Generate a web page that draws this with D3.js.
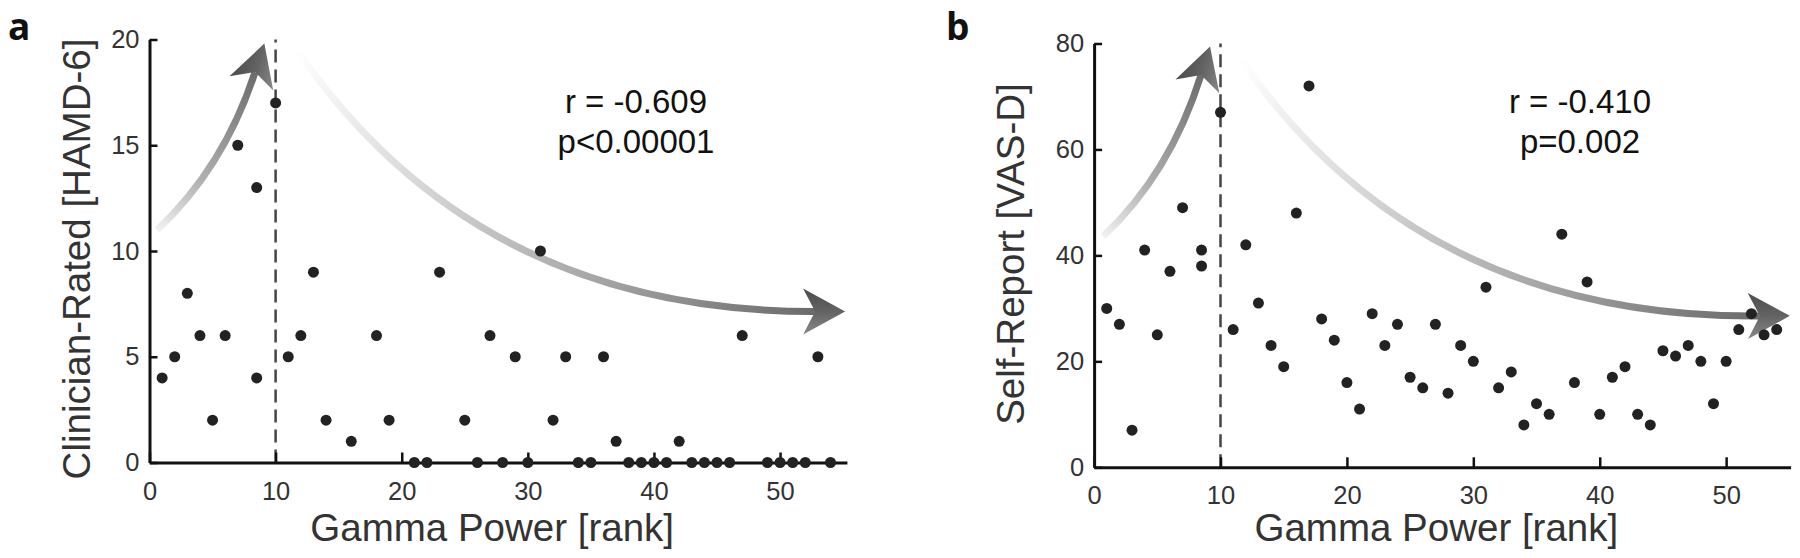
<!DOCTYPE html>
<html>
<head>
<meta charset="utf-8">
<script src="https://cdn.jsdelivr.net/npm/d3@7"></script>
<style>
    html, body { margin: 0; padding: 0; background: #fff; }
    svg { display: block; }
    .tick text { font-family: "Liberation Sans", Arial, sans-serif; font-size: 25.5px; fill: #333; }
</style>
</head>
<body>
<div id="chart"></div>
<script>
// Gamma power rank vs. depression scores, two panels.

// Panel a: clinician-rated HAMD-6 (tied ranks show up as 8.5)
const rankA = [1, 2, 3, 4, 5, 6, 7, 8.5, 8.5, 10, 11, 12, 13, 14, 16, 18, 19, 21, 22, 23,
    25, 26, 27, 28, 29, 30, 31, 32, 33, 34, 35, 36, 37, 38, 39, 40, 41, 42, 43, 44,
    45, 46, 47, 49, 50, 51, 52, 53, 54];
const hamd = [4, 5, 8, 6, 2, 6, 15, 13, 4, 17, 5, 6, 9, 2, 1, 6, 2, 0, 0, 9,
    2, 0, 6, 0, 5, 0, 10, 2, 5, 0, 0, 5, 1, 0, 0, 0, 0, 1, 0, 0,
    0, 0, 6, 0, 0, 0, 0, 5, 0];

// Panel b: self-report VAS-D
const rankB = [1, 2, 3, 4, 5, 6, 7, 8.5, 8.5, 10, 11, 12, 13, 14, 15, 16, 17, 18, 19, 20,
    21, 22, 23, 24, 25, 26, 27, 28, 29, 30, 31, 32, 33, 34, 35, 36, 37, 38, 39, 40,
    41, 42, 43, 44, 45, 46, 47, 48, 49, 50, 51, 52, 53, 54];
const vasd = [30, 27, 7, 41, 25, 37, 49, 41, 38, 67, 26, 42, 31, 23, 19, 48, 72, 28, 24, 16,
    11, 29, 23, 27, 17, 15, 27, 14, 23, 20, 34, 15, 18, 8, 12, 10, 44, 16, 35, 10,
    17, 19, 10, 8, 22, 21, 23, 20, 12, 20, 26, 29, 25, 26];

const xTicks = [0, 10, 20, 30, 40, 50];
const yTicksA = [0, 5, 10, 15, 20];
const yTicksB = [0, 20, 40, 60, 80];
const cutRank = 10;

const statsA = ['r = -0.609', 'p<0.00001'];
const statsB = ['r = -0.410', 'p=0.002'];

// Decorative arrows, control points in data units [rank, score]
const upArrowA = [[0.59, 10.99], [5.91, 13.95], [8.37, 18.46]];
const downArrowA = [[11.70, 19.5], [19.86, 12.41], [32.55, 7.12], [52.78, 7.14]];
const upArrowB = [[0.70, 43.56], [6.00, 55.37], [8.46, 74.05]];
const downArrowB = [[11.54, 77.21], [19.70, 48.95], [32.35, 28.17], [52.67, 28.56]];

const W = 1800, H = 558;
const font = '"Liberation Sans", Arial, sans-serif';

const svg = d3.select('#chart').append('svg')
    .attr('width', W)
    .attr('height', H)
    .attr('viewBox', `0 0 ${W} ${H}`);

const defs = svg.append('defs');

function addGradient(id, p0, p1, stops) {
    const grad = defs.append('linearGradient')
        .attr('id', id)
        .attr('gradientUnits', 'userSpaceOnUse')
        .attr('x1', p0[0]).attr('y1', p0[1])
        .attr('x2', p1[0]).attr('y2', p1[1]);
    stops.forEach(s => grad.append('stop').attr('offset', s[0]).attr('stop-color', s[1]));
}

// arrow head: tip ahead of shaft end, notch at shaft end
function arrowHead(end, dir) {
    const len = Math.hypot(dir[0], dir[1]);
    const u = [dir[0] / len, dir[1] / len];
    const n = [-u[1], u[0]];
    const tip = [end[0] + 30 * u[0], end[1] + 30 * u[1]];
    const back = [end[0] - 12 * u[0], end[1] - 12 * u[1]];
    const c1 = [back[0] + 23 * n[0], back[1] + 23 * n[1]];
    const c2 = [back[0] - 23 * n[0], back[1] - 23 * n[1]];
    return [tip, c1, end, c2];
}

function drawArrow(g, x, y, pts, id, stops) {
    const p = pts.map(d => [x(d[0]), y(d[1])]);
    const path = d3.path();
    path.moveTo(p[0][0], p[0][1]);
    if (p.length === 3) path.quadraticCurveTo(p[1][0], p[1][1], p[2][0], p[2][1]);
    else path.bezierCurveTo(p[1][0], p[1][1], p[2][0], p[2][1], p[3][0], p[3][1]);

    const end = p[p.length - 1], prev = p[p.length - 2];
    addGradient(id, p[0], end, stops);

    g.append('path')
        .attr('d', path.toString())
        .attr('fill', 'none')
        .attr('stroke', `url(#${id})`)
        .attr('stroke-width', 7);

    const head = arrowHead(end, [end[0] - prev[0], end[1] - prev[1]]);
    addGradient(id + '-head', head[1], head[3], [[0, '#888'], [0.5, '#636363'], [1, '#4c4c4c']]);
    g.append('polygon')
        .attr('points', head.map(d => d.join(',')).join(' '))
        .attr('fill', `url(#${id}-head)`);
}

function drawPanel(o) {
    const g = svg.append('g');
    const x = d3.scaleLinear().domain(o.xDomain).range(o.xRange);
    const y = d3.scaleLinear().domain(o.yDomain).range(o.yRange);

    // dashed cut line at rank 10
    g.append('line')
        .attr('x1', x(cutRank)).attr('x2', x(cutRank))
        .attr('y1', y(o.yDomain[0])).attr('y2', y(o.yDomain[1]))
        .attr('stroke', '#444')
        .attr('stroke-width', 2.5)
        .attr('stroke-dasharray', '13,7');

    drawArrow(g, x, y, o.upArrow, o.id + '-up',
        [[0, '#f2f2f2'], [0.35, '#b0b0b0'], [1, '#6c6c6c']]);
    drawArrow(g, x, y, o.downArrow, o.id + '-down',
        [[0, '#ffffff'], [0.3, '#d6d6d6'], [0.65, '#a4a4a4'], [1, '#6a6a6a']]);

    // axes (ticks point inward)
    const xAxis = g.append('g')
        .attr('transform', `translate(0,${y(0)})`)
        .call(d3.axisBottom(x).tickValues(xTicks).tickSizeInner(-10).tickSizeOuter(0).tickPadding(19));
    const yAxis = g.append('g')
        .attr('transform', `translate(${x(0)},0)`)
        .call(d3.axisLeft(y).tickValues(o.yTicks).tickSizeInner(-8).tickSizeOuter(0).tickPadding(10));
    [xAxis, yAxis].forEach(a => {
        a.select('.domain').attr('stroke', '#111').attr('stroke-width', 3);
        a.selectAll('.tick line').attr('stroke', '#111').attr('stroke-width', 2.5);
    });

    // points
    g.selectAll('circle.pt')
        .data(o.xs.map((d, i) => [d, o.ys[i]]))
        .enter()
        .append('circle')
        .attr('class', 'pt')
        .attr('cx', d => x(d[0]))
        .attr('cy', d => y(d[1]))
        .attr('r', 5.5)
        .attr('fill', '#222');

    // axis titles
    g.append('text')
        .attr('x', (o.xRange[0] + o.xRange[1]) / 2 - 6)
        .attr('y', 541)
        .attr('text-anchor', 'middle')
        .attr('font-family', font)
        .attr('font-size', 38.5)
        .attr('fill', '#333')
        .text('Gamma Power [rank]');

    g.append('text')
        .attr('transform', `translate(${o.yLabelPos[0]},${o.yLabelPos[1]}) rotate(-90)`)
        .attr('text-anchor', 'middle')
        .attr('font-family', font)
        .attr('font-size', 38.5)
        .attr('fill', '#333')
        .text(o.yLabel);

    // correlation text
    g.selectAll('text.stat')
        .data(o.stats)
        .enter()
        .append('text')
        .attr('class', 'stat')
        .attr('x', o.statsX)
        .attr('y', (d, i) => 113 + i * 40)
        .attr('text-anchor', 'middle')
        .attr('font-family', font)
        .attr('font-size', 33)
        .attr('fill', '#111')
        .text(d => d);

    // panel letter
    g.append('text')
        .attr('x', o.letterX)
        .attr('y', 40)
        .attr('font-family', '"Open Sans", "DejaVu Sans", sans-serif')
        .attr('font-weight', 700)
        .attr('font-size', 37)
        .attr('fill', '#111')
        .text(o.letter);
}

drawPanel({
    id: 'a',
    xs: rankA, ys: hamd,
    xDomain: [0, 55.3], xRange: [149.5, 846.9],
    yDomain: [0, 20], yRange: [462.5, 39.5],
    yTicks: yTicksA,
    yLabel: 'Clinician-Rated [HAMD-6]', yLabelPos: [90, 259],
    stats: statsA, statsX: 636,
    upArrow: upArrowA, downArrow: downArrowA,
    letter: 'a', letterX: 8
});

drawPanel({
    id: 'b',
    xs: rankB, ys: vasd,
    xDomain: [0, 55.1], xRange: [1094.1, 1790.6],
    yDomain: [0, 80], yRange: [467.3, 43.5],
    yTicks: yTicksB,
    yLabel: 'Self-Report [VAS-D]', yLabelPos: [1024, 254],
    stats: statsB, statsX: 1580,
    upArrow: upArrowB, downArrow: downArrowB,
    letter: 'b', letterX: 946
});
</script>
</body>
</html>
